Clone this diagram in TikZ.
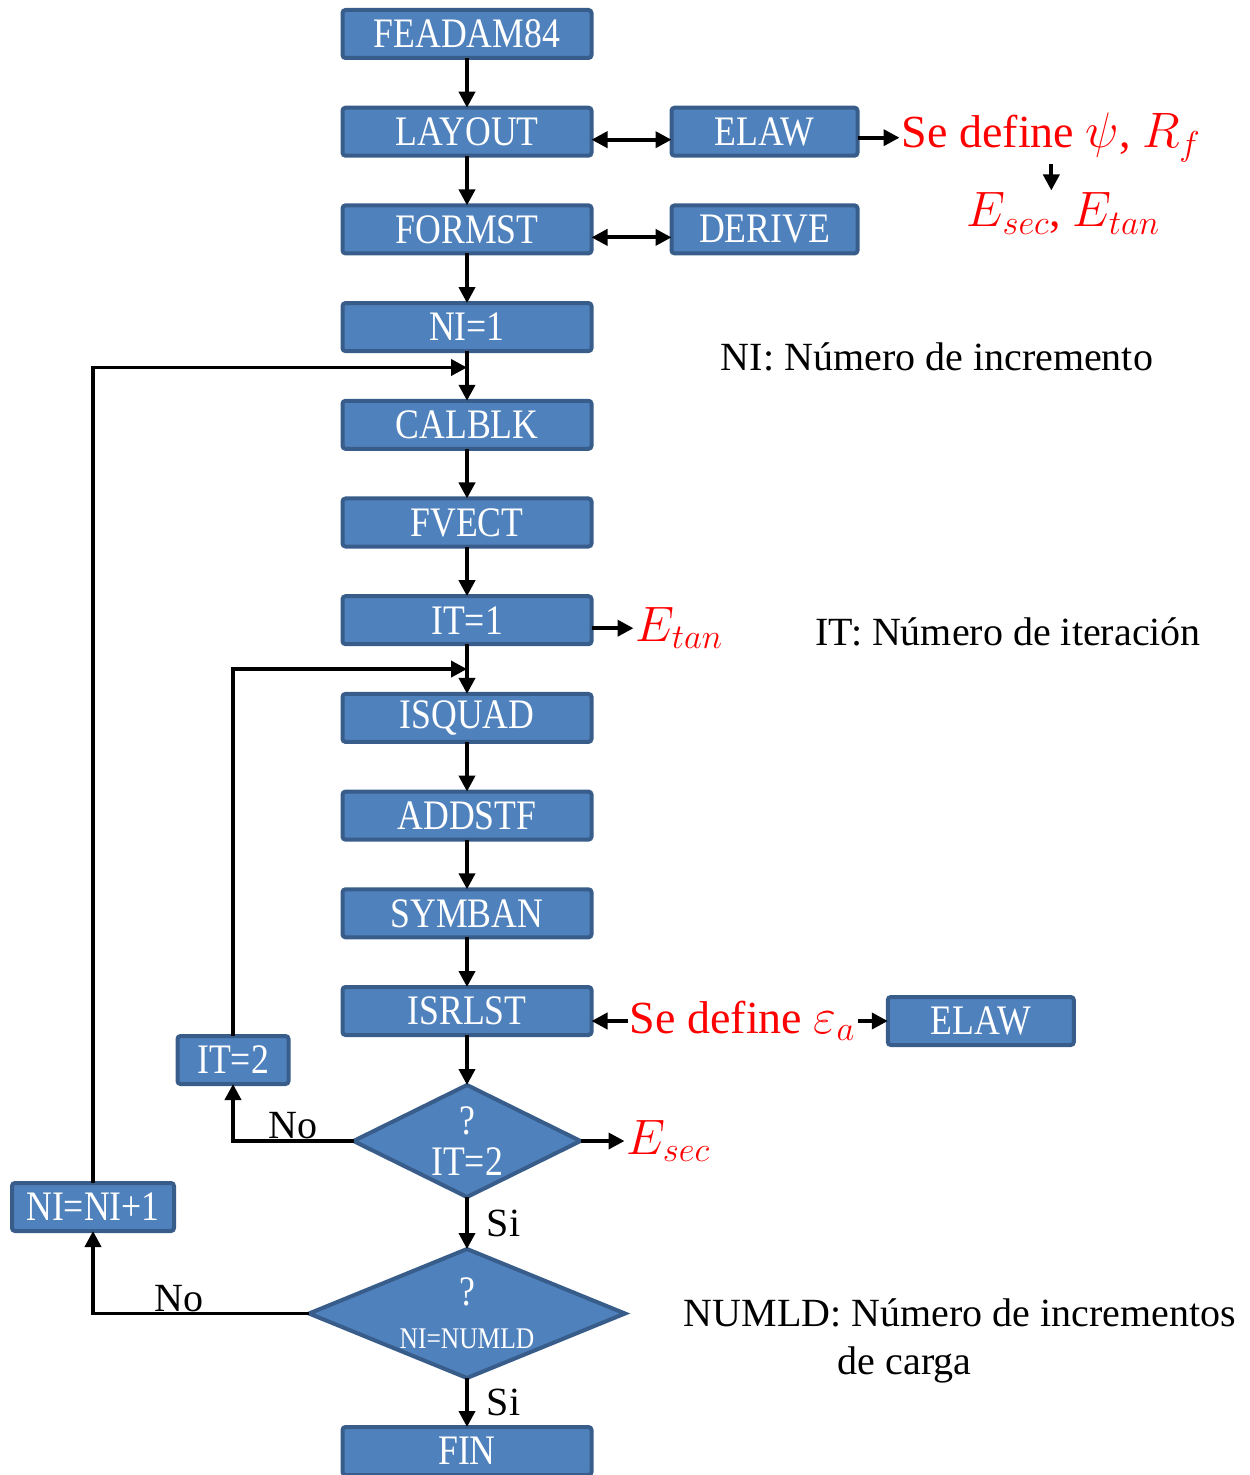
\documentclass[tikz,border=0pt]{standalone}
\usepackage{fontspec}
\setmainfont{Liberation Serif}
\newfontfamily\boxfont{Liberation Serif}[FakeStretch=0.85]
\usetikzlibrary{positioning,arrows.meta,shapes.geometric,calc}
\definecolor{flowfill}{HTML}{4F81BD}
\definecolor{flowline}{HTML}{385D8A}
\definecolor{flowred}{HTML}{FF0000}
\tikzset{
    flow/.style={draw,-{Triangle[length=8pt,width=8pt]},line width=1.9pt},
    every edge/.style={flow},
    twoway/.style={{Triangle[length=8pt,width=8pt]}-{Triangle[length=8pt,width=8pt]}},
    routine/.style={rectangle,rounded corners=1.5pt,draw=flowline,fill=flowfill,line width=2pt,
        text=white,font=\boxfont\fontsize{21}{24}\selectfont,minimum width=124.5pt,minimum height=24pt,
        inner sep=0pt,outer sep=0pt},
    sideroutine/.style={routine,minimum width=93pt},
    check/.style={diamond,draw=flowline,fill=flowfill,line width=2pt,text=white,
        font=\boxfont\fontsize{21}{20.5}\selectfont,align=center,inner sep=-16pt,outer sep=0pt},
    redtxt/.style={text=flowred,font=\fontsize{23}{27}\selectfont,inner sep=1pt},
    note/.style={font=\fontsize{20}{24}\selectfont,inner sep=0pt},
    lbl/.style={font=\fontsize{20}{24}\selectfont,inner sep=1pt},
}
\begin{document}
\begin{tikzpicture}[x=0.5pt,y=-0.5pt,node distance=24.85pt]
    \useasboundingbox (0,0) rectangle (1249,1475);
    % main column
    \node[routine] (feadam) at (467,34) {FEADAM84};
    \node[routine,below=of feadam] (layout) {LAYOUT};
    \node[routine,below=of layout] (formst) {FORMST};
    \node[routine,below=of formst] (ni1) {NI=1};
    \node[routine,below=of ni1] (calblk) {CALBLK};
    \node[routine,below=of calblk] (fvect) {FVECT};
    \node[routine,below=of fvect] (it1) {IT=1};
    \node[routine,below=of it1] (isquad) {ISQUAD};
    \node[routine,below=of isquad] (addstf) {ADDSTF};
    \node[routine,below=of addstf] (symban) {SYMBAN};
    \node[routine,below=of symban] (isrlst) {ISRLST};
    \node[check,below=25pt of isrlst,minimum width=113.5pt,minimum height=56pt] (itcheck) {?\\IT=2};
    \node[check,below=26pt of itcheck,minimum width=158pt,minimum height=64.5pt] (nicheck)
        {?\\[1pt]{\fontsize{15}{15}\selectfont NI=NUMLD}};
    \node[routine,below=24.5pt of nicheck] (fin) {FIN};

    % side boxes
    \node[sideroutine,right=40pt of layout] (elaw) {ELAW};
    \node[sideroutine,right=40pt of formst] (derive) {DERIVE};
    \node[routine,minimum width=55.5pt] (itnew) at (233,1060) {IT=2};
    \node[routine,minimum width=81pt] (ninew) at (93,1207) {NI=NI+1};

    % red remarks
    \node[redtxt,right=21pt of elaw,yshift=-3pt] (psidef) {Se define $\psi$, $R_f$};
    \node[redtxt,below=13pt of psidef,xshift=6pt] (emods) {$E_{sec}$, $E_{tan}$};
    \node[redtxt,right=21pt of it1,yshift=-4pt] (etan) {$E_{tan}$};
    \node[redtxt,right=22pt of itcheck] (esec) {$E_{sec}$};
    \node[redtxt,right=18pt of isrlst,yshift=-5pt] (epsdef) {Se define $\varepsilon_a$};
    \node[sideroutine,right=15pt of epsdef] (elawb) {ELAW};

    % notes
    \node[note] (ninote) at (937,357) {NI: Número de incremento};
    \node[note] (itnote) at (1008,632) {IT: Número de iteración};
    \node[note,align=left] (numldnote) at (960,1341) {NUMLD: Número de incrementos\\\hspace*{77pt}de carga};

    \coordinate (niloop) at ($(ni1.south)!0.33!(calblk.north)$);
    \coordinate (itloop) at ($(it1.south)!0.5!(isquad.north)$);

    \foreach \a/\b in {feadam/layout,layout/formst,formst/ni1,ni1/calblk,calblk/fvect,fvect/it1,
        it1/isquad,isquad/addstf,addstf/symban,symban/isrlst,isrlst/itcheck}
        \path (\a) edge (\b);
    \path
    (itcheck) edge node[lbl,right=8pt] (sia) {Si} (nicheck)
    (nicheck) edge node[lbl,right=8pt] (sib) {Si} (fin)
    ([yshift=-4pt]layout.east) edge[twoway] ([yshift=-4pt]elaw.west)
    ([yshift=-4pt]formst.east) edge[twoway] ([yshift=-4pt]derive.west)
    (elaw.east |- psidef.west) edge (psidef.west)
    (psidef.south) edge (psidef.south |- emods.north)
    (it1.east |- etan.west) edge (etan.west)
    (itcheck.east) edge (esec.west)
    (epsdef.west) edge (epsdef.west -| isrlst.east)
    (epsdef.east) edge (elawb.west);

    % loops back
    \draw[flow] (itcheck.west) -| node[lbl,pos=0.25,above=-1pt] (noa) {No} (itnew.south);
    \draw[flow] (itnew.north) |- (itloop);
    \draw[flow] (nicheck.west) -| node[lbl,pos=0.3,above=-1pt] (nob) {No} (ninew.south);
    \draw[flow] (ninew.north) |- (niloop);
\end{tikzpicture}
\end{document}
